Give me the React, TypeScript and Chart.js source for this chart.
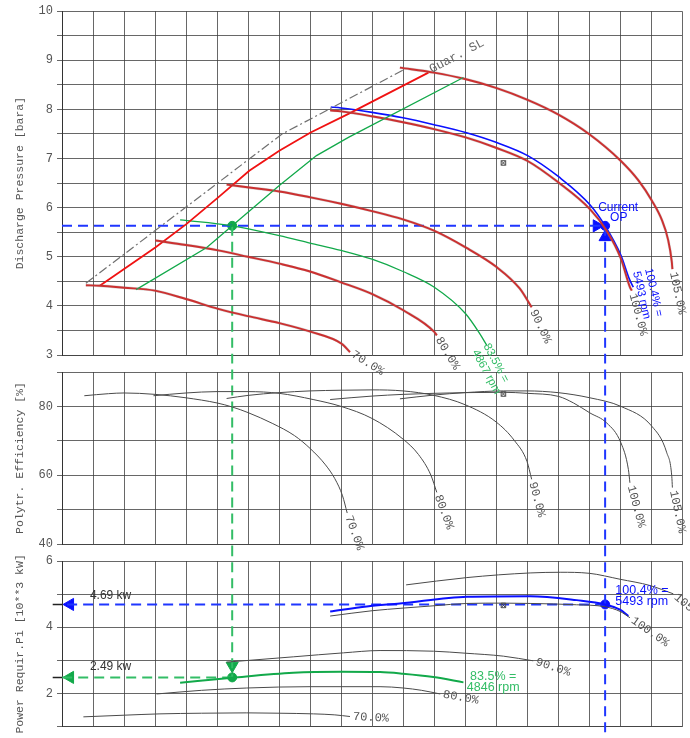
import React, { useEffect, useRef } from 'react';
import { Chart, registerables } from 'chart.js';
Chart.register(...registerables);

// ---------------- data ----------------
const FLOW_MIN = 0;
const FLOW_MAX = 20;
const SPEED_LABELS = ['70.0%', '80.0%', '90.0%', '100.0%', '105.0%'];

// Discharge pressure [bara] vs flow (grid units)
const P70_X = [0.77, 1.23, 2.0, 3.0, 4.0, 5.04, 6.0, 7.01, 8.04, 9.02, 9.29];
const P70_Y = [4.42, 4.41, 4.37, 4.31, 4.14, 3.94, 3.79, 3.65, 3.47, 3.23, 3.06];
const P80_X = [3.01, 4.0, 5.04, 6.0, 7.01, 8.0, 9.0, 10.01, 11.01, 12.01, 12.09];
const P80_Y = [5.33, 5.24, 5.13, 5.0, 4.86, 4.7, 4.48, 4.24, 3.91, 3.47, 3.4];
const P90_X = [5.31, 6.04, 7.01, 8.02, 9.0, 10.0, 11.0, 12.0, 13.02, 14.02, 14.77, 15.15];
const P90_Y = [6.47, 6.41, 6.33, 6.21, 6.08, 5.93, 5.76, 5.53, 5.19, 4.79, 4.35, 3.97];
const P100_X = [8.65, 9.0, 10.0, 11.0, 12.0, 13.02, 14.0, 15.02, 16.02, 17.03, 17.57, 18.03, 18.32, 18.38];
const P100_Y = [7.98, 7.96, 7.86, 7.74, 7.6, 7.43, 7.22, 6.95, 6.51, 5.97, 5.53, 4.96, 4.38, 4.31];
const P105_X = [10.9, 12.0, 13.0, 14.0, 15.0, 16.0, 17.0, 18.03, 18.6, 19.03, 19.35, 19.55, 19.67, 19.69];
const P105_Y = [8.85, 8.75, 8.62, 8.44, 8.2, 7.9, 7.5, 6.95, 6.55, 6.14, 5.75, 5.35, 4.9, 4.75];
const PB_X = [8.67, 9.0, 10.0, 11.0, 12.0, 13.02, 14.0, 15.02, 16.02, 17.03, 17.52, 18.03, 18.3, 18.43];
const PB_Y = [8.05, 8.03, 7.94, 7.83, 7.69, 7.53, 7.33, 7.06, 6.63, 6.06, 5.63, 5.03, 4.55, 4.38];
const PG_X = [3.81, 5.49, 7.01, 8.0, 9.0, 10.0, 11.0, 12.01, 13.02, 13.48, 13.7];
const PG_Y = [5.75, 5.63, 5.43, 5.28, 5.13, 4.95, 4.7, 4.38, 3.84, 3.43, 3.2];
const SURGE_X = [1.23, 3.01, 4.02, 5.04, 6.04, 7.01, 8.02, 9.24, 11.82];
const SURGE_Y = [4.415, 5.19, 5.67, 6.21, 6.75, 7.16, 7.53, 7.91, 8.75];
const GUAR_X = [0.77, 7.1, 11.0];
const GUAR_Y = [4.46, 7.5, 8.8];
const CTRL_X = [2.39, 4.67, 5.49, 7.01, 8.21, 9.24, 12.95];
const CTRL_Y = [4.33, 5.19, 5.63, 6.45, 7.06, 7.43, 8.65];

// Polytropic efficiency [%]
const E70_X = [0.72, 1.5, 2.0, 3.0, 4.0, 5.0, 5.5, 6.0, 6.8, 7.5, 8.0, 8.5, 8.8, 9.05, 9.2];
const E70_Y = [83.1, 83.7, 83.9, 83.5, 82.5, 81.0, 79.8, 78.2, 75.0, 71.5, 67.8, 63.0, 59.0, 54.0, 49.0];
const E80_X = [2.95, 4.0, 5.0, 6.0, 7.0, 8.1, 9.0, 10.0, 11.0, 11.5, 11.9, 12.09];
const E80_Y = [83.1, 83.9, 84.3, 84.3, 83.8, 82.0, 80.0, 76.5, 70.5, 66.0, 60.0, 55.0];
const E90_X = [5.31, 6.0, 7.0, 8.0, 9.0, 10.0, 11.0, 12.0, 13.0, 14.0, 14.6, 15.0, 15.15];
const E90_Y = [82.3, 83.2, 84.0, 84.5, 84.7, 84.8, 84.5, 83.2, 80.5, 75.5, 70.0, 64.0, 58.8];
const E100_X = [8.65, 10.0, 11.0, 12.0, 13.0, 14.24, 15.0, 16.02, 16.5, 17.03, 17.57, 18.03, 18.27, 18.32];
const E100_Y = [82.0, 83.0, 83.5, 83.8, 84.0, 84.1, 83.8, 82.9, 81.0, 78.1, 75.2, 69.4, 61.7, 57.8];
const E105_X = [10.9, 12.0, 13.0, 14.24, 15.0, 16.0, 17.03, 18.03, 19.03, 19.51, 19.67, 19.69];
const E105_Y = [82.2, 83.3, 84.0, 84.5, 84.5, 84.0, 82.5, 80.0, 74.2, 66.5, 59.7, 56.4];

// Power requirement [10**3 kW]
const W70_X = [0.69, 2.0, 3.16, 4.5, 5.96, 7.0, 8.11, 8.8, 9.29];
const W70_Y = [1.3, 1.35, 1.39, 1.41, 1.42, 1.41, 1.39, 1.36, 1.31];
const W80_X = [3.05, 4.5, 5.96, 8.0, 10.26, 11.01, 11.6, 12.2];
const W80_Y = [1.99, 2.1, 2.17, 2.21, 2.21, 2.17, 2.1, 1.99];
const W90_X = [5.31, 7.46, 9.08, 10.26, 11.98, 13.0, 14.24, 15.2];
const W90_Y = [2.95, 3.11, 3.23, 3.3, 3.28, 3.22, 3.13, 2.99];
const W100_X = [8.65, 10.0, 11.0, 12.0, 13.06, 14.24, 15.1, 16.6, 17.52, 18.0, 18.32];
const W100_Y = [4.34, 4.5, 4.58, 4.65, 4.72, 4.73, 4.72, 4.68, 4.62, 4.48, 4.29];
const W105_X = [11.1, 13.06, 15.1, 16.07, 17.0, 18.0, 18.97, 19.72];
const W105_Y = [5.28, 5.5, 5.64, 5.66, 5.63, 5.45, 5.26, 5.01];
const WB_X = [8.65, 9.83, 10.9, 13.06, 15.1, 16.6, 17.52, 18.0, 18.27];
const WB_Y = [4.48, 4.63, 4.72, 4.92, 4.94, 4.82, 4.69, 4.53, 4.34];
const WG_X = [3.81, 5.49, 7.46, 9.0, 10.26, 11.0, 11.98, 12.95];
const WG_Y = [2.33, 2.48, 2.63, 2.66, 2.65, 2.6, 2.5, 2.34];

// Operating points
const OP_BLUE = { flow: 17.52, pressure: 5.63, power: 4.69 };
const OP_GREEN = { flow: 5.49, pressure: 5.63, power: 2.49 };
const DESIGN = { flow: 14.24, pressure: 6.91, eff: 83.6, power: 4.66 };
// arrow-head anchors (data units)
const ARROW_P_RIGHT = { x: 17.25, y: 5.63 };
const ARROW_P_UP = { x: 17.52, y: 5.4 };
const ARROW_W_DOWN = { x: 5.49, y: 2.84 };
const ARROW_W_LEFT_X = 0.26;
const AXIS_TICK_FROM = -0.3;

// ---------------- styles ----------------
const W = 690;
const H = 738;
const MONO = '"Liberation Mono", "DejaVu Sans Mono", monospace';
const SANS = '"Liberation Sans", Arial, sans-serif';
const GRID = 'rgba(60,60,60,0.78)';
const LABEL_GRAY = '#555';
const RED = '#f01212';
const BLUE = '#0a10ff';
const BLUE_D = '#1f36ff';
const GREEN = '#12a94a';
const GREEN_D = '#33bd66';
const CURVE_GRAY = '#4a4a4a';

const pts = (xs: number[], ys: number[]) => xs.map((x, i) => ({ x, y: ys[i] }));

const curve = (xs: number[], ys: number[], color: string, width: number, extra: any = {}) => ({
  data: pts(xs, ys),
  showLine: true,
  borderColor: color,
  backgroundColor: color,
  borderWidth: width,
  pointRadius: 0,
  cubicInterpolationMode: 'monotone',
  ...extra,
});

const straight = (xs: number[], ys: number[], color: string, width: number, extra: any = {}) =>
  curve(xs, ys, color, width, { cubicInterpolationMode: 'default', tension: 0, ...extra });

const marker = (x: number, y: number, color: string, style: string, radius: number, rotation = 0, extra: any = {}) => ({
  data: [{ x, y }],
  showLine: false,
  pointStyle: style,
  pointRadius: radius,
  pointRotation: rotation,
  pointBackgroundColor: color,
  pointBorderColor: color,
  pointBorderWidth: 1,
  ...extra,
});

const designMark = (x: number, y: number) => [
  marker(x, y, CURVE_GRAY, 'rect', 3.2, 0, { pointBackgroundColor: 'rgba(0,0,0,0)' }),
  marker(x, y, CURVE_GRAY, 'crossRot', 3.2),
];

type TextItem = { text: string; x: number; y: number; rot?: number; font: string; color: string; align?: string; dx?: number };

const textPlugin = (items: TextItem[]) => ({
  id: 'texts',
  afterDatasetsDraw(chart: any) {
    const { ctx, scales } = chart;
    items.forEach((it) => {
      ctx.save();
      ctx.translate(scales.x.getPixelForValue(it.x), scales.y.getPixelForValue(it.y));
      ctx.rotate(((it.rot || 0) * Math.PI) / 180);
      ctx.font = it.font;
      ctx.fillStyle = it.color;
      ctx.textAlign = it.align || 'left';
      ctx.textBaseline = 'middle';
      ctx.fillText(it.text, it.dx || 0, 0);
      ctx.restore();
    });
  },
});

const endLabels = (xsList: number[][], ysList: number[][], angles: number[]): TextItem[] =>
  SPEED_LABELS.map((t, i) => {
    const xs = xsList[i];
    const ys = ysList[i];
    return {
      text: t,
      x: xs[xs.length - 1],
      y: ys[ys.length - 1],
      rot: angles[i],
      font: `12px ${MONO}`,
      color: LABEL_GRAY,
      dx: 3,
    };
  });

const makeOptions = (
  yMin: number,
  yMax: number,
  yStep: number,
  isLabel: (v: number) => boolean,
  title: string,
  padTop: number,
  padBottom: number
) => ({
  responsive: false,
  animation: false,
  devicePixelRatio: 1,
  events: [],
  layout: { padding: { top: padTop, bottom: padBottom, left: 0, right: 8 } },
  plugins: { legend: { display: false }, tooltip: { enabled: false } },
  scales: {
    x: {
      type: 'linear',
      min: FLOW_MIN,
      max: FLOW_MAX,
      afterFit: (s: any) => {
        s.height = 0;
      },
      ticks: { display: false, stepSize: 1 },
      grid: { color: GRID, lineWidth: 1, drawTicks: false },
      border: { color: GRID },
    },
    y: {
      type: 'linear',
      min: yMin,
      max: yMax,
      afterFit: (s: any) => {
        s.width = 62;
      },
      ticks: {
        stepSize: yStep,
        autoSkip: false,
        padding: 4,
        color: LABEL_GRAY,
        font: { family: MONO, size: 12 },
        callback: (v: any) => (isLabel(Number(v)) ? String(Math.round(Number(v))) : ''),
      },
      grid: { color: GRID, lineWidth: 1, drawTicks: true, tickLength: 5, tickColor: GRID },
      border: { color: '#333' },
      title: {
        display: true,
        text: title,
        color: LABEL_GRAY,
        font: { family: MONO, size: 11.5 },
        padding: { top: 13, bottom: 0 },
      },
    },
  },
});

// ---------------- charts ----------------
const pressureConfig = (): any => {
  const shadow = 'rgba(120,120,120,0.3)';
  const vclip = { left: 0, right: 0, top: 0, bottom: 8 };
  const datasets: any[] = [
    curve(P70_X, P70_Y, shadow, 2.8),
    curve(P80_X, P80_Y, shadow, 2.8),
    curve(P90_X, P90_Y, shadow, 2.8),
    curve(P100_X, P100_Y, shadow, 2.8),
    curve(P105_X, P105_Y, shadow, 2.8),
    straight(GUAR_X, GUAR_Y, '#707070', 1.2, { borderDash: [9, 3, 2, 3] }),
    straight(SURGE_X, SURGE_Y, RED, 1.8),
    straight(CTRL_X, CTRL_Y, GREEN, 1.3),
    curve(P70_X, P70_Y, RED, 1.9),
    curve(P80_X, P80_Y, RED, 1.9),
    curve(P90_X, P90_Y, RED, 1.9),
    curve(P100_X, P100_Y, RED, 1.9),
    curve(P105_X, P105_Y, RED, 1.9),
    curve(PB_X, PB_Y, BLUE, 1.6),
    curve(PG_X, PG_Y, GREEN, 1.3),
    ...designMark(DESIGN.flow, DESIGN.pressure),
    straight([FLOW_MIN, OP_BLUE.flow], [OP_BLUE.pressure, OP_BLUE.pressure], BLUE_D, 2, { borderDash: [10, 6] }),
    straight([OP_BLUE.flow, OP_BLUE.flow], [OP_BLUE.pressure, -60], BLUE_D, 2, { borderDash: [10, 6], clip: vclip }),
    straight([OP_GREEN.flow, OP_GREEN.flow], [OP_GREEN.pressure, -60], GREEN_D, 2, { borderDash: [10, 6], clip: vclip }),
    marker(ARROW_P_RIGHT.x, ARROW_P_RIGHT.y, BLUE, 'triangle', 7, 90),
    marker(ARROW_P_UP.x, ARROW_P_UP.y, BLUE, 'triangle', 7, 0),
    marker(OP_BLUE.flow, OP_BLUE.pressure, BLUE, 'circle', 4.5),
    marker(OP_GREEN.flow, OP_GREEN.pressure, GREEN, 'circle', 4.5),
  ];
  const texts: TextItem[] = [
    ...endLabels([P70_X, P80_X, P90_X, P100_X, P105_X], [P70_Y, P80_Y, P90_Y, P100_Y, P105_Y], [32, 59, 65, 75, 78]),
    { text: 'Guar. SL', x: 11.88, y: 8.8, rot: -28, font: `12.5px ${MONO}`, color: '#666' },
    { text: 'Current', x: 17.94, y: 6.0, font: `12px ${SANS}`, color: BLUE, align: 'center' },
    { text: 'OP', x: 17.96, y: 5.8, font: `12px ${SANS}`, color: BLUE, align: 'center' },
    { text: '100.4% =', x: 18.91, y: 4.76, rot: 77, font: `11.5px ${SANS}`, color: BLUE },
    { text: '5493 rpm', x: 18.52, y: 4.7, rot: 77, font: `11.5px ${SANS}`, color: BLUE },
    { text: '83.5% =', x: 13.68, y: 3.22, rot: 62, font: `11.5px ${SANS}`, color: GREEN_D },
    { text: '4867 rpm', x: 13.32, y: 3.09, rot: 62, font: `11.5px ${SANS}`, color: GREEN_D },
  ];
  return {
    type: 'scatter',
    data: { datasets },
    options: makeOptions(3, 10, 0.5, (v) => Math.abs(v - Math.round(v)) < 1e-6, 'Discharge Pressure [bara]', 10, 383),
    plugins: [textPlugin(texts)],
  };
};

const efficiencyConfig = (): any => {
  const vclip = { left: 0, right: 0, top: 9, bottom: 9 };
  const datasets: any[] = [
    curve(E70_X, E70_Y, CURVE_GRAY, 1),
    curve(E80_X, E80_Y, CURVE_GRAY, 1),
    curve(E90_X, E90_Y, CURVE_GRAY, 1),
    curve(E100_X, E100_Y, CURVE_GRAY, 1),
    curve(E105_X, E105_Y, CURVE_GRAY, 1),
    ...designMark(DESIGN.flow, DESIGN.eff),
    straight([OP_BLUE.flow, OP_BLUE.flow], [300, -300], BLUE_D, 2, { borderDash: [10, 6], clip: vclip }),
    straight([OP_GREEN.flow, OP_GREEN.flow], [300, -300], GREEN_D, 2, { borderDash: [10, 6], clip: vclip }),
  ];
  const texts = endLabels([E70_X, E80_X, E90_X, E100_X, E105_X], [E70_Y, E80_Y, E90_Y, E100_Y, E105_Y], [70, 70, 75, 75, 78]);
  return {
    type: 'scatter',
    data: { datasets },
    options: makeOptions(40, 90, 10, (v) => Math.round(v) % 20 === 0, 'Polytr. Efficiency [%]', 372, 194),
    plugins: [textPlugin(texts)],
  };
};

const powerConfig = (): any => {
  const datasets: any[] = [
    curve(W70_X, W70_Y, CURVE_GRAY, 1),
    curve(W80_X, W80_Y, CURVE_GRAY, 1),
    curve(W90_X, W90_Y, CURVE_GRAY, 1),
    curve(W100_X, W100_Y, CURVE_GRAY, 1),
    curve(W105_X, W105_Y, CURVE_GRAY, 1),
    curve(WG_X, WG_Y, GREEN, 2),
    curve(WB_X, WB_Y, BLUE, 2),
    ...designMark(DESIGN.flow, DESIGN.power),
    straight([OP_BLUE.flow, OP_BLUE.flow], [60, -60], BLUE_D, 2, {
      borderDash: [10, 6],
      clip: { left: 0, right: 0, top: 8, bottom: 100 },
    }),
    straight([OP_GREEN.flow, OP_GREEN.flow], [60, OP_GREEN.power], GREEN_D, 2, {
      borderDash: [10, 6],
      clip: { left: 0, right: 0, top: 8, bottom: 0 },
    }),
    straight([OP_BLUE.flow, FLOW_MIN], [OP_BLUE.power, OP_BLUE.power], BLUE_D, 2, { borderDash: [10, 6] }),
    straight([OP_GREEN.flow, FLOW_MIN], [OP_GREEN.power, OP_GREEN.power], GREEN_D, 2, { borderDash: [10, 6] }),
    straight([AXIS_TICK_FROM, FLOW_MIN], [OP_BLUE.power, OP_BLUE.power], '#222', 1.5, {
      clip: { left: 20, right: 0, top: 0, bottom: 0 },
    }),
    straight([AXIS_TICK_FROM, FLOW_MIN], [OP_GREEN.power, OP_GREEN.power], '#222', 1.5, {
      clip: { left: 20, right: 0, top: 0, bottom: 0 },
    }),
    marker(ARROW_W_DOWN.x, ARROW_W_DOWN.y, GREEN, 'triangle', 7, 180),
    marker(ARROW_W_LEFT_X, OP_BLUE.power, BLUE, 'triangle', 7, 270),
    marker(ARROW_W_LEFT_X, OP_GREEN.power, GREEN, 'triangle', 7, 270),
    marker(OP_BLUE.flow, OP_BLUE.power, BLUE, 'circle', 4.5),
    marker(OP_GREEN.flow, OP_GREEN.power, GREEN, 'circle', 4.5),
  ];
  const texts: TextItem[] = [
    ...endLabels([W70_X, W80_X, W90_X, W100_X, W105_X], [W70_Y, W80_Y, W90_Y, W100_Y, W105_Y], [3, 10, 18, 35, 40]),
    { text: '4.69 kw', x: 0.9, y: 4.94, font: `12px ${SANS}`, color: '#333' },
    { text: '2.49 kw', x: 0.9, y: 2.82, font: `12px ${SANS}`, color: '#333' },
    { text: '100.4% =', x: 17.85, y: 5.11, font: `12.5px ${SANS}`, color: BLUE },
    { text: '5493 rpm', x: 17.85, y: 4.79, font: `12.5px ${SANS}`, color: BLUE },
    { text: '83.5% =', x: 13.91, y: 2.53, font: `12.5px ${SANS}`, color: GREEN_D, align: 'center' },
    { text: '4846 rpm', x: 13.91, y: 2.18, font: `12.5px ${SANS}`, color: GREEN_D, align: 'center' },
  ];
  return {
    type: 'scatter',
    data: { datasets },
    options: makeOptions(1, 6, 1, (v) => Math.round(v) % 2 === 0, 'Power Requir.Pi [10**3 kW]', 561, 4),
    plugins: [textPlugin(texts)],
  };
};

export default function App() {
  const r1 = useRef<HTMLCanvasElement>(null);
  const r2 = useRef<HTMLCanvasElement>(null);
  const r3 = useRef<HTMLCanvasElement>(null);

  useEffect(() => {
    const charts = [
      new Chart(r3.current as HTMLCanvasElement, powerConfig()),
      new Chart(r2.current as HTMLCanvasElement, efficiencyConfig()),
      new Chart(r1.current as HTMLCanvasElement, pressureConfig()),
    ];
    return () => charts.forEach((c) => c.destroy());
  }, []);

  const cs: React.CSSProperties = { position: 'absolute', left: 0, top: 0, width: W, height: H };
  return (
    <div style={{ position: 'absolute', left: 0, top: 0, width: W, height: H, background: '#fff', overflow: 'hidden' }}>
      <canvas ref={r3} width={W} height={H} style={cs} />
      <canvas ref={r2} width={W} height={H} style={cs} />
      <canvas ref={r1} width={W} height={H} style={cs} />
    </div>
  );
}
